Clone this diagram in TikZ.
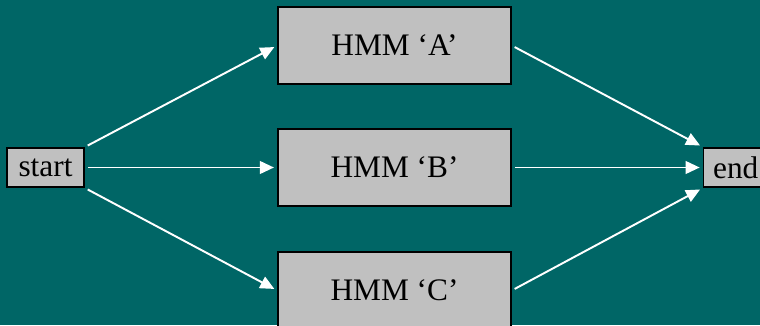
\documentclass[tikz,border=0pt]{standalone}
\usepackage{fontspec}
\setmainfont{Liberation Serif}
\usetikzlibrary{arrows.meta}
\definecolor{slide}{RGB}{0,102,102}
\definecolor{boxgrey}{RGB}{192,192,192}
\begin{document}
\begin{tikzpicture}[x=0.75pt,y=-0.75pt,
  box/.style={draw=black,line width=1.1pt,fill=boxgrey,inner sep=0pt,
    font=\fontsize{23.5}{27}\selectfont,text=black},
  hmm/.style={box,minimum width=174.75pt,minimum height=57.75pt},
  small/.style={box,minimum height=29.5pt},
  arr/.style={draw=white,line width=1.45pt,-{Triangle[length=10.5pt,width=9.5pt]},
    shorten <=2.5pt,shorten >=2.5pt}]
  \fill[slide] (0,0) rectangle (760,325);
  \useasboundingbox (0,0) rectangle (760,325);
  \clip (0,0) rectangle (760,325);
  % model boxes
  \node[hmm] (A) at (394.5,45.5) {HMM ‘A’};
  \node[hmm] (B) at (394.5,167.5) {HMM ‘B’};
  \node[hmm] (C) at (394.5,290.5) {HMM ‘C’};
  % start and end states
  \node[small,minimum width=57.75pt] (start) at (45.5,167.5) {start};
  \node[small,minimum width=48pt,anchor=west] (end) at (703,167.5) {end};
  % transitions
  \draw[arr] (start.north east) -- (A.west);
  \draw[arr] (start.east) -- (B.west);
  \draw[arr] (start.south east) -- (C.west);
  \draw[arr] (A.east) -- (end.north west);
  \draw[arr] (B.east) -- (end.west);
  \draw[arr] (C.east) -- (end.south west);
\end{tikzpicture}
\end{document}
